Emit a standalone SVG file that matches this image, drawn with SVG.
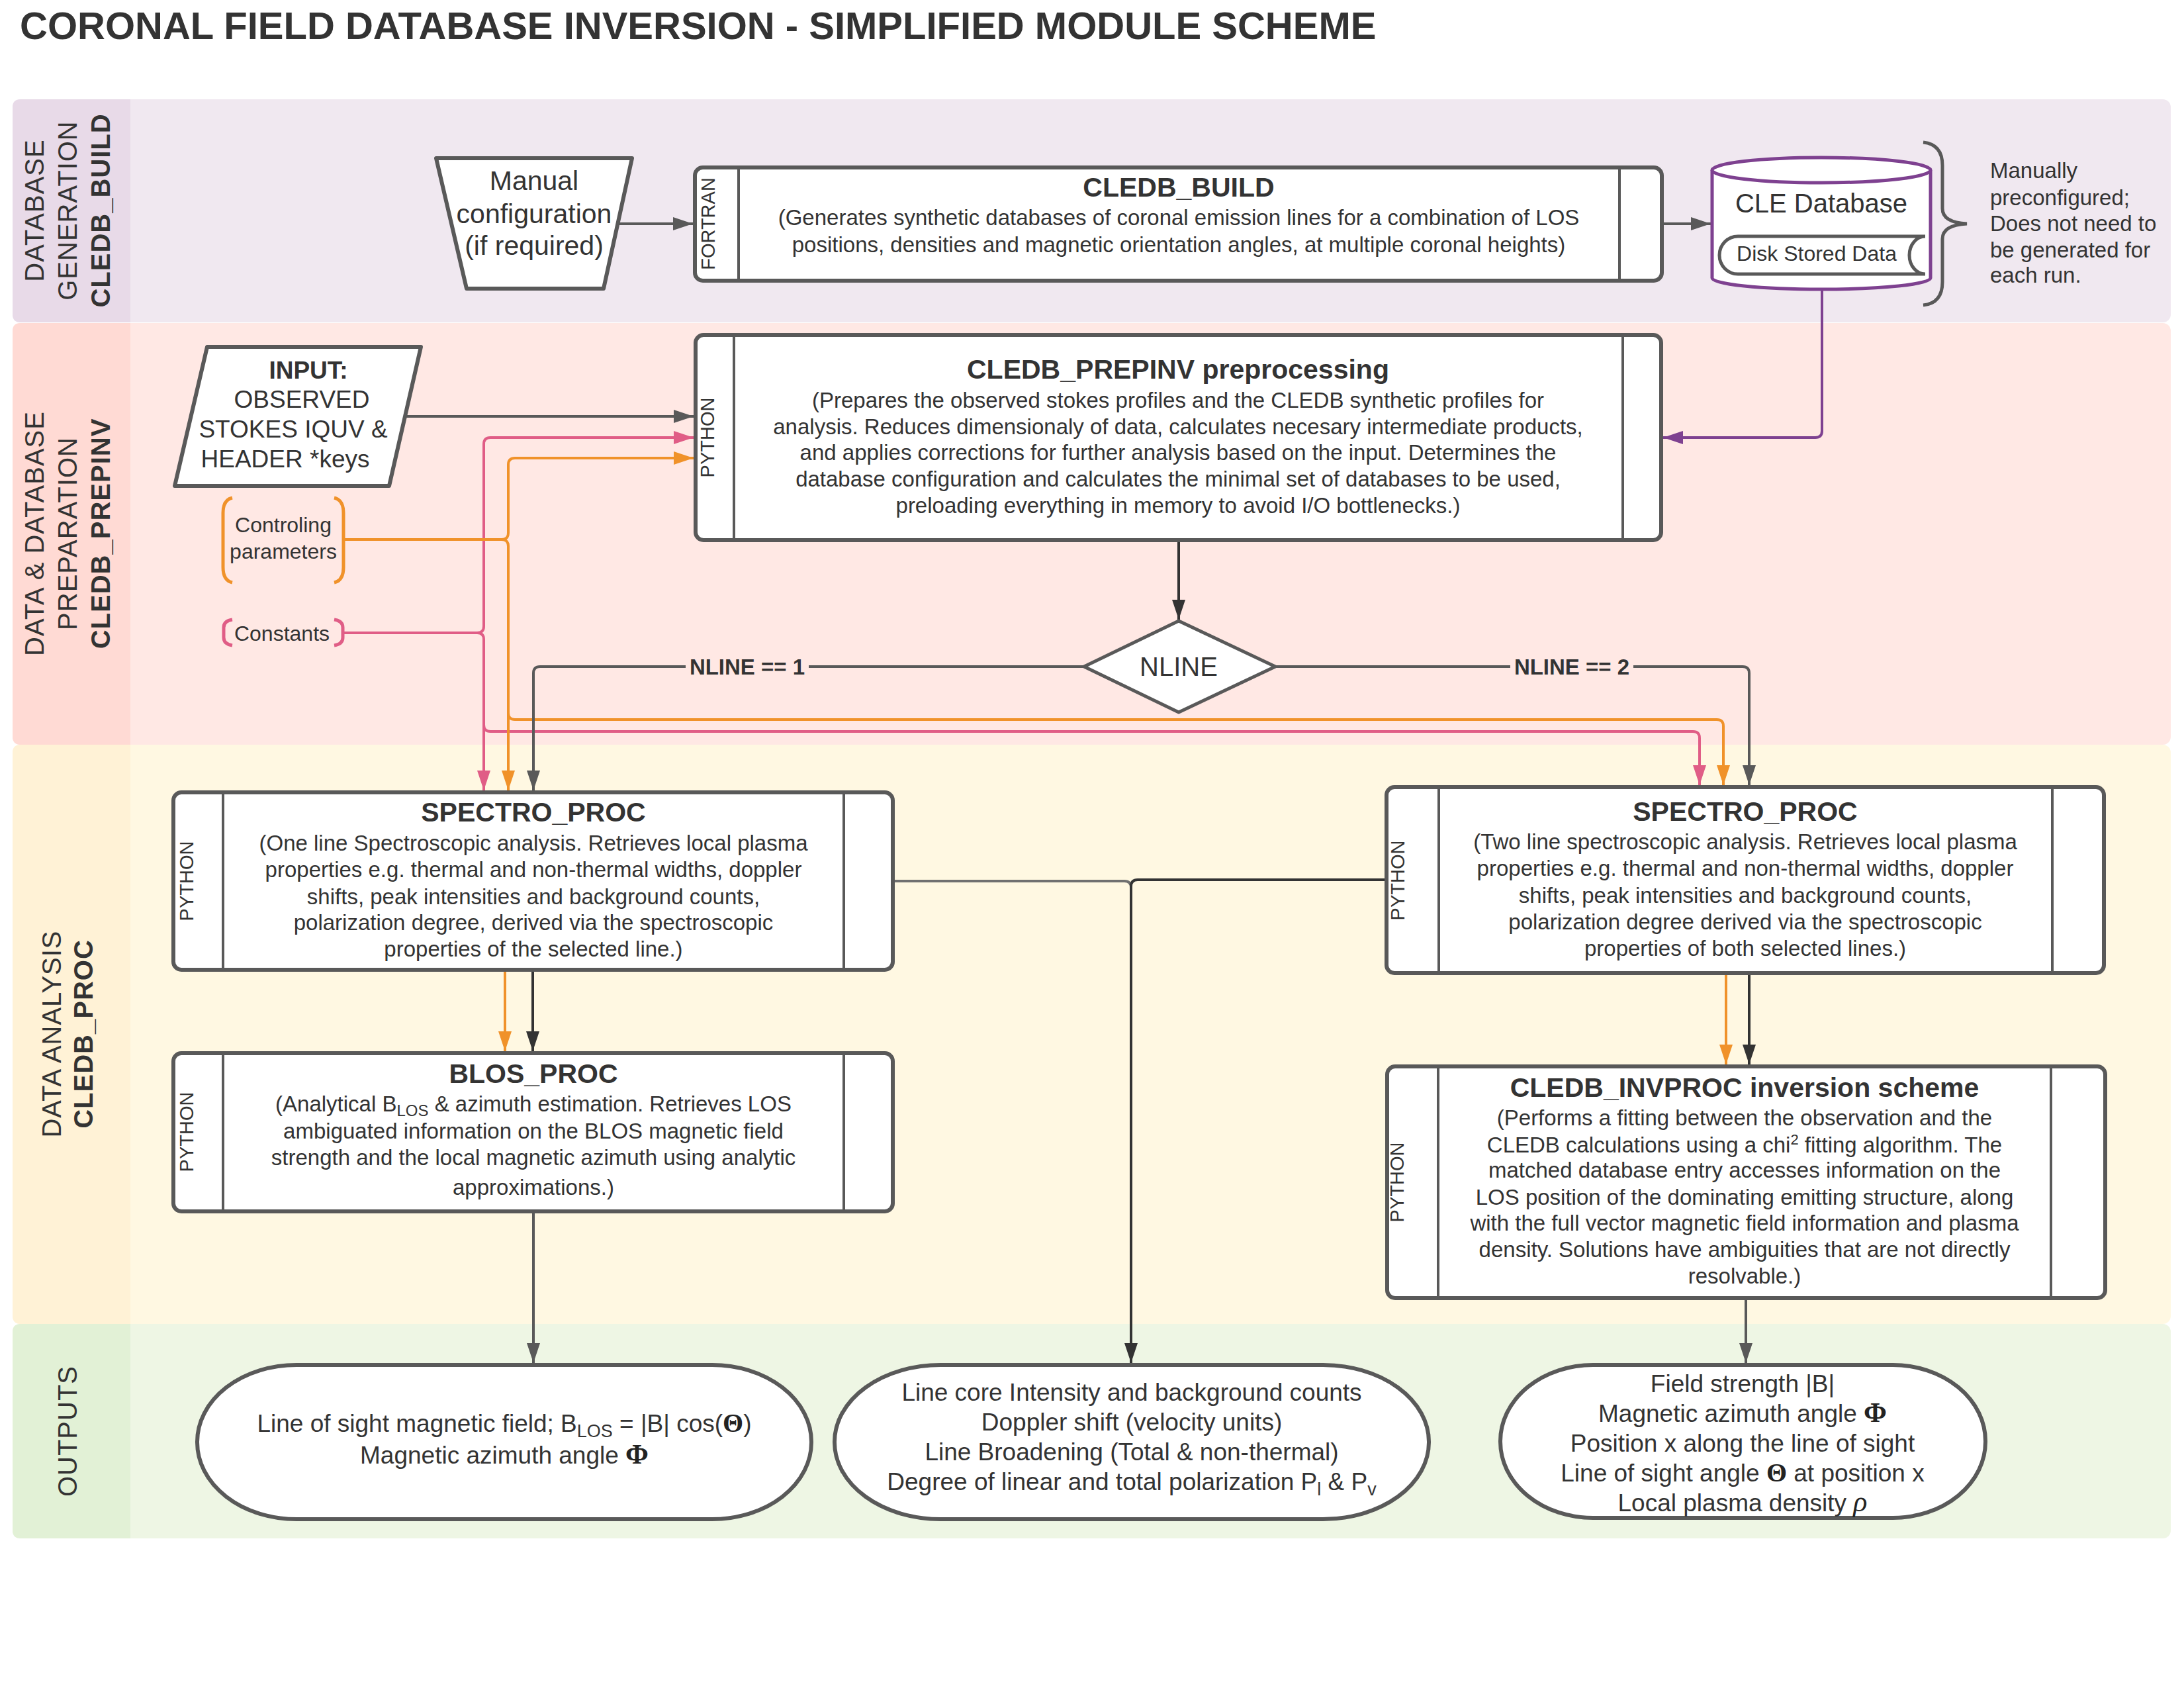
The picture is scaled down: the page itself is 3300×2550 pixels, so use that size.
<svg xmlns="http://www.w3.org/2000/svg" width="3300" height="2550" viewBox="0 0 3300 2550">
<defs>
<style>
.t{font-family:"Liberation Sans",Arial,sans-serif;fill:#333333}
.s{font-family:"Liberation Serif","Times New Roman",serif;fill:#222222}
.ttl{font-size:41px;font-weight:bold;text-anchor:middle}
.dsc{font-size:33px;text-anchor:middle}
.out{font-size:37px;text-anchor:middle}
.lane{font-size:40px;text-anchor:middle;letter-spacing:1px}
.laneb{font-size:40px;font-weight:bold;text-anchor:middle;letter-spacing:1px}
.lang{font-size:29px;text-anchor:middle}
.box{fill:#ffffff;stroke:#595959;stroke-width:6}
.dv{stroke:#595959;stroke-width:4;fill:none}
.c{fill:none;stroke-width:4}
.g{stroke:#595959}
.k{stroke:#333333}
.lg{stroke:#707070}
.p{stroke:#E05D86}
.o{stroke:#F0922A}
.v{stroke:#7E4190}
</style>
<marker id="ag" viewBox="0 0 30 20" refX="30" refY="10" markerWidth="30" markerHeight="20" markerUnits="userSpaceOnUse" orient="auto"><path d="M0,0 L30,10 L0,20 z" fill="#595959"/></marker>
<marker id="ak" viewBox="0 0 30 20" refX="30" refY="10" markerWidth="30" markerHeight="20" markerUnits="userSpaceOnUse" orient="auto"><path d="M0,0 L30,10 L0,20 z" fill="#333333"/></marker>
<marker id="ap" viewBox="0 0 30 20" refX="30" refY="10" markerWidth="30" markerHeight="20" markerUnits="userSpaceOnUse" orient="auto"><path d="M0,0 L30,10 L0,20 z" fill="#E05D86"/></marker>
<marker id="ao" viewBox="0 0 30 20" refX="30" refY="10" markerWidth="30" markerHeight="20" markerUnits="userSpaceOnUse" orient="auto"><path d="M0,0 L30,10 L0,20 z" fill="#F0922A"/></marker>
<marker id="av" viewBox="0 0 30 20" refX="30" refY="10" markerWidth="30" markerHeight="20" markerUnits="userSpaceOnUse" orient="auto"><path d="M0,0 L30,10 L0,20 z" fill="#7E4190"/></marker>
</defs>
<rect x="0" y="0" width="3300" height="2550" fill="#ffffff"/>
<text class="t" x="30" y="59" font-size="58" font-weight="bold">CORONAL FIELD DATABASE INVERSION - SIMPLIFIED MODULE SCHEME</text>

<!-- Lanes -->
<g id="lane-build">
<rect x="19" y="150" width="3261" height="337" rx="12" fill="#F0E8F0"/>
<path d="M31,150 H197 V487 H31 Q19,487 19,475 V162 Q19,150 31,150 Z" fill="#E8DAE8"/>
<text class="t lane" transform="translate(66,318) rotate(-90)">DATABASE</text>
<text class="t lane" transform="translate(116,318) rotate(-90)">GENERATION</text>
<text class="t laneb" transform="translate(166,318) rotate(-90)">CLEDB_BUILD</text>
</g>
<g id="lane-prepinv">
<rect x="19" y="488" width="3261" height="637" rx="12" fill="#FFE8E4"/>
<path d="M31,488 H197 V1125 H31 Q19,1125 19,1113 V500 Q19,488 31,488 Z" fill="#FFDAD4"/>
<text class="t lane" transform="translate(66,806) rotate(-90)">DATA &amp; DATABASE</text>
<text class="t lane" transform="translate(116,806) rotate(-90)">PREPARATION</text>
<text class="t laneb" transform="translate(166,806) rotate(-90)">CLEDB_PREPINV</text>
</g>
<g id="lane-proc">
<rect x="19" y="1125" width="3261" height="875" rx="12" fill="#FFF8E2"/>
<path d="M31,1125 H197 V2000 H31 Q19,2000 19,1988 V1137 Q19,1125 31,1125 Z" fill="#FFF2D6"/>
<text class="t lane" transform="translate(92,1562) rotate(-90)">DATA ANALYSIS</text>
<text class="t laneb" transform="translate(140,1562) rotate(-90)">CLEDB_PROC</text>
</g>
<g id="lane-outputs">
<rect x="19" y="2000" width="3261" height="324" rx="12" fill="#EEF6E4"/>
<path d="M31,2000 H197 V2324 H31 Q19,2324 19,2312 V2012 Q19,2000 31,2000 Z" fill="#E2F1D6"/>
<text class="t lane" transform="translate(116,2162) rotate(-90)">OUTPUTS</text>
</g>

<!-- Connectors -->
<g id="connectors">
<path class="c g" d="M935,338 H1047" marker-end="url(#ag)"/>
<path class="c g" d="M2511,338 H2585" marker-end="url(#ag)"/>
<path class="c v" d="M2753,437 V651 Q2753,661 2743,661 H2513" marker-end="url(#av)"/>
<path class="c g" d="M612,629 H1048" marker-end="url(#ag)"/>
<path class="c p" d="M519,956 H721 Q731,956 731,946 V671 Q731,661 741,661 H1048" marker-end="url(#ap)"/>
<path class="c p" d="M721,956 Q731,956 731,966 V1194" marker-end="url(#ap)"/>
<path class="c p" d="M731,1095 Q731,1105 741,1105 H2558 Q2568,1105 2568,1115 V1186" marker-end="url(#ap)"/>
<path class="c o" d="M519,815 H758 Q768,815 768,805 V702 Q768,692 778,692 H1048" marker-end="url(#ao)"/>
<path class="c o" d="M758,815 Q768,815 768,825 V1194" marker-end="url(#ao)"/>
<path class="c o" d="M768,1077 Q768,1087 778,1087 H2594 Q2604,1087 2604,1097 V1186" marker-end="url(#ao)"/>
<path class="c g" d="M1638,1007 H816 Q806,1007 806,1017 V1194" marker-end="url(#ag)"/>
<path class="c g" d="M1927,1007 H2633 Q2643,1007 2643,1017 V1186" marker-end="url(#ag)"/>
<path class="c k" d="M1781,816 V936" marker-end="url(#ak)"/>
<path class="c o" d="M763,1468 V1588" marker-end="url(#ao)"/>
<path class="c k" d="M805,1468 V1588" marker-end="url(#ak)"/>
<path class="c o" d="M2608,1473 V1608" marker-end="url(#ao)"/>
<path class="c k" d="M2643,1473 V1608" marker-end="url(#ak)"/>
<path class="c g" d="M806,1833 V2059" marker-end="url(#ag)"/>
<path class="c g" d="M2638,1964 V2059" marker-end="url(#ag)"/>
<path class="c lg" d="M1352,1331 H1699 Q1709,1331 1709,1341"/>
<path class="c k" d="M2092,1329 H1719 Q1709,1329 1709,1339 V2059" marker-end="url(#ak)"/>
<rect x="1036" y="985" width="186" height="44" fill="#FFE8E4"/>
<text class="t" x="1129" y="1019" font-size="33" font-weight="bold" text-anchor="middle">NLINE == 1</text>
<rect x="2282" y="985" width="186" height="44" fill="#FFE8E4"/>
<text class="t" x="2375" y="1019" font-size="33" font-weight="bold" text-anchor="middle">NLINE == 2</text>
</g>

<!-- Nodes -->
<g id="manual-config">
<path d="M659,239 H955 L912,436 H705 Z" fill="#ffffff" stroke="#595959" stroke-width="6" stroke-linejoin="round"/>
<text class="t" font-size="41" text-anchor="middle"><tspan x="807" y="287">Manual</tspan><tspan x="807" y="337">configuration</tspan><tspan x="807" y="385">(if required)</tspan></text>
</g>

<g id="cledb-build">
<rect class="box" x="1050" y="253" width="1461" height="171" rx="12"/>
<path class="dv" d="M1116,253 V424 M2447,253 V424"/>
<text class="t lang" transform="translate(1080,338) rotate(-90)">FORTRAN</text>
<text class="t ttl" x="1781" y="297">CLEDB_BUILD</text>
<text class="t dsc"><tspan x="1781" y="340">(Generates synthetic databases of coronal emission lines for a combination of LOS</tspan><tspan x="1781" y="381">positions, densities and magnetic orientation angles, at multiple coronal heights)</tspan></text>
</g>

<g id="cle-database">
<path d="M2587,257 V420 A165,17 0 0 0 2917,420 V257" fill="#ffffff" stroke="#7E4190" stroke-width="5"/>
<ellipse cx="2752" cy="257" rx="165" ry="19" fill="#ffffff" stroke="#7E4190" stroke-width="5"/>
<text class="t" x="2752" y="321" font-size="40" text-anchor="middle">CLE Database</text>
<path d="M2626,357 H2909 A24,28.5 0 0 0 2909,414 H2626 A28,28.5 0 0 1 2626,357 Z" fill="#ffffff" stroke="#595959" stroke-width="5"/>
<text class="t" x="2745" y="394" font-size="32" text-anchor="middle">Disk Stored Data</text>
</g>

<g id="note-brace">
<path d="M2906,215 Q2935,218 2935,250 V315 Q2935,336 2972,338 Q2935,340 2935,361 V426 Q2935,458 2906,461" fill="none" stroke="#595959" stroke-width="5"/>
<text class="t" font-size="33"><tspan x="3007" y="269">Manually</tspan><tspan x="3007" y="310">preconfigured;</tspan><tspan x="3007" y="349">Does not need to</tspan><tspan x="3007" y="389">be generated for</tspan><tspan x="3007" y="427">each run.</tspan></text>
</g>

<g id="input">
<path d="M313,524 H636 L588,734 H264 Z" fill="#ffffff" stroke="#595959" stroke-width="6" stroke-linejoin="round"/>
<text class="t" font-size="37" text-anchor="middle"><tspan x="466" y="572" font-weight="bold">INPUT:</tspan><tspan x="456" y="616">OBSERVED</tspan><tspan x="443" y="661">STOKES IQUV &amp;</tspan><tspan x="431" y="706">HEADER *keys</tspan></text>
</g>

<g id="controling">
<path d="M351,752 Q337,755 337,775 V857 Q337,877 351,880 M505,752 Q519,755 519,775 V857 Q519,877 505,880" fill="none" stroke="#F0922A" stroke-width="5"/>
<text class="t" font-size="32" text-anchor="middle"><tspan x="428" y="804">Controling</tspan><tspan x="428" y="844">parameters</tspan></text>
</g>

<g id="constants">
<path d="M351,936 Q338,938 338,948 V963 Q338,973 351,975 M505,936 Q518,938 518,948 V963 Q518,973 505,975" fill="none" stroke="#E05D86" stroke-width="5"/>
<text class="t" x="426" y="968" font-size="32" text-anchor="middle">Constants</text>
</g>

<g id="cledb-prepinv">
<rect class="box" x="1051" y="506" width="1459" height="310" rx="12"/>
<path class="dv" d="M1109,506 V816 M2452,506 V816"/>
<text class="t lang" transform="translate(1079,661) rotate(-90)">PYTHON</text>
<text class="t ttl" x="1780" y="572">CLEDB_PREPINV preprocessing</text>
<text class="t dsc"><tspan x="1780" y="616">(Prepares the observed stokes profiles and the CLEDB synthetic profiles for</tspan><tspan x="1780" y="656">analysis. Reduces dimensionaly of data, calculates necesary intermediate products,</tspan><tspan x="1780" y="695">and applies corrections for further analysis based on the input. Determines the</tspan><tspan x="1780" y="735">database configuration and calculates the minimal set of databases to be used,</tspan><tspan x="1780" y="775">preloading everything in memory to avoid I/O bottlenecks.)</tspan></text>
</g>

<g id="nline">
<path d="M1781,938 L1927,1007 L1781,1076 L1638,1007 Z" fill="#ffffff" stroke="#595959" stroke-width="5" stroke-linejoin="round"/>
<text class="t" x="1781" y="1021" font-size="40" text-anchor="middle">NLINE</text>
</g>

<g id="spectro-proc-1">
<rect class="box" x="262" y="1197" width="1087" height="268" rx="12"/>
<path class="dv" d="M337,1197 V1465 M1275,1197 V1465"/>
<text class="t lang" transform="translate(292,1331) rotate(-90)">PYTHON</text>
<text class="t ttl" x="806" y="1241">SPECTRO_PROC</text>
<text class="t dsc"><tspan x="806" y="1285">(One line Spectroscopic analysis. Retrieves local plasma</tspan><tspan x="806" y="1325">properties e.g. thermal and non-thermal widths, doppler</tspan><tspan x="806" y="1366">shifts, peak intensities and background counts,</tspan><tspan x="806" y="1405">polarization degree, derived via the spectroscopic</tspan><tspan x="806" y="1445">properties of the selected line.)</tspan></text>
</g>

<g id="blos-proc">
<rect class="box" x="262" y="1591" width="1087" height="239" rx="12"/>
<path class="dv" d="M337,1591 V1830 M1275,1591 V1830"/>
<text class="t lang" transform="translate(292,1710) rotate(-90)">PYTHON</text>
<text class="t ttl" x="806" y="1636">BLOS_PROC</text>
<text class="t dsc"><tspan x="806" y="1679">(Analytical B<tspan font-size="24" dy="7">LOS</tspan><tspan dy="-7"> &amp; azimuth estimation. Retrieves LOS</tspan></tspan><tspan x="806" y="1720">ambiguated information on the BLOS magnetic field</tspan><tspan x="806" y="1760">strength and the local magnetic azimuth using analytic</tspan><tspan x="806" y="1805">approximations.)</tspan></text>
</g>

<g id="spectro-proc-2">
<rect class="box" x="2095" y="1189" width="1084" height="281" rx="12"/>
<path class="dv" d="M2174,1189 V1470 M3101,1189 V1470"/>
<text class="t lang" transform="translate(2122,1330) rotate(-90)">PYTHON</text>
<text class="t ttl" x="2637" y="1240">SPECTRO_PROC</text>
<text class="t dsc"><tspan x="2637" y="1283">(Two line spectroscopic analysis. Retrieves local plasma</tspan><tspan x="2637" y="1323">properties e.g. thermal and non-thermal widths, doppler</tspan><tspan x="2637" y="1364">shifts, peak intensities and background counts,</tspan><tspan x="2637" y="1404">polarization degree derived via the spectroscopic</tspan><tspan x="2637" y="1444">properties of both selected lines.)</tspan></text>
</g>

<g id="cledb-invproc">
<rect class="box" x="2096" y="1611" width="1085" height="350" rx="12"/>
<path class="dv" d="M2173,1611 V1961 M3099,1611 V1961"/>
<text class="t lang" transform="translate(2121,1786) rotate(-90)">PYTHON</text>
<text class="t ttl" x="2636" y="1657">CLEDB_INVPROC inversion scheme</text>
<text class="t dsc"><tspan x="2636" y="1700">(Performs a fitting between the observation and the</tspan><tspan x="2636" y="1741">CLEDB calculations using a chi<tspan font-size="22" dy="-12">2</tspan><tspan dy="12"> fitting algorithm. The</tspan></tspan><tspan x="2636" y="1779">matched database entry accesses information on the</tspan><tspan x="2636" y="1820">LOS position of the dominating emitting structure, along</tspan><tspan x="2636" y="1859">with the full vector magnetic field information and plasma</tspan><tspan x="2636" y="1899">density. Solutions have ambiguities that are not directly</tspan><tspan x="2636" y="1939">resolvable.)</tspan></text>
</g>

<g id="output-blos">
<rect class="box" x="298" y="2062" width="928" height="233" rx="150" ry="116"/>
<text class="t out"><tspan x="762" y="2163">Line of sight magnetic field; B<tspan font-size="27" dy="8">LOS</tspan><tspan dy="-8"> = |B| cos(</tspan><tspan class="s" font-size="40" font-weight="bold">Θ</tspan>)</tspan><tspan x="762" y="2211">Magnetic azimuth angle <tspan class="s" font-size="42" font-weight="bold">Φ</tspan></tspan></text>
</g>

<g id="output-spectro">
<rect class="box" x="1261" y="2062" width="898" height="233" rx="160" ry="116"/>
<text class="t out"><tspan x="1710" y="2116">Line core Intensity and background counts</tspan><tspan x="1710" y="2161">Doppler shift (velocity units)</tspan><tspan x="1710" y="2206">Line Broadening (Total &amp; non-thermal)</tspan><tspan x="1710" y="2251">Degree of linear and total polarization P<tspan font-size="27" dy="8">l</tspan><tspan dy="-8"> &amp; P</tspan><tspan font-size="27" dy="8">v</tspan></tspan></text>
</g>

<g id="output-inv">
<rect class="box" x="2267" y="2062" width="733" height="231" rx="140" ry="115"/>
<text class="t out"><tspan x="2633" y="2103">Field strength |B|</tspan><tspan x="2633" y="2148">Magnetic azimuth angle <tspan class="s" font-size="42" font-weight="bold">Φ</tspan></tspan><tspan x="2633" y="2193">Position x along the line of sight</tspan><tspan x="2633" y="2238">Line of sight angle <tspan class="s" font-size="40" font-weight="bold">Θ</tspan> at position x</tspan><tspan x="2633" y="2283">Local plasma density <tspan class="s" font-size="44" font-style="italic">ρ</tspan></tspan></text>
</g>
</svg>
